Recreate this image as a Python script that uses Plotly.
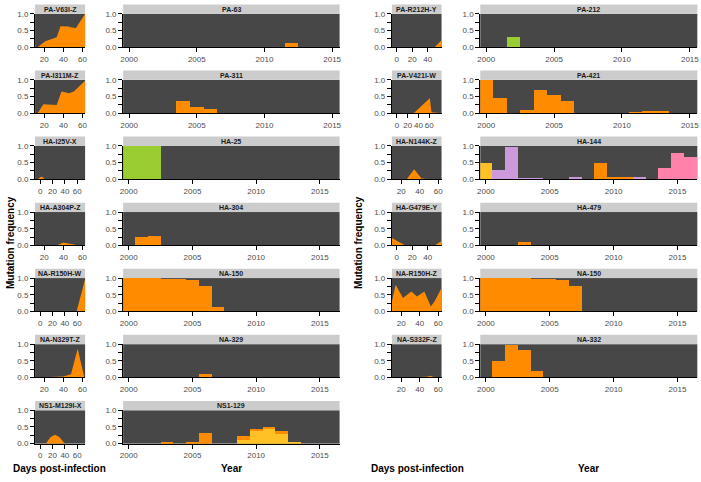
import plotly.graph_objects as go

W, H = 701, 482
ORANGE = "#FF8C00"
GREEN = "#9ACD32"
GOLD = "#FFC125"
PLUM = "#CC99DD"
PINK = "#FF82AB"
BG = "#474747"
STRIP = "#CCCCCC"

# ---------------- small panels: days post-infection ----------------
pa_v63i_z_days = [10.3, 13, 21, 29, 33, 37, 45, 53, 62.8]
pa_v63i_z_vals = [0, 0, 0.18, 0.26, 0.3, 0.63, 0.62, 0.57, 1.0]
pa_i311m_z_days = [10.3, 13, 19, 26, 33, 38, 46, 51, 62.8]
pa_i311m_z_vals = [0, 0, 0.27, 0.25, 0.25, 0.65, 0.6, 0.65, 0.97]
ha_i25v_x_days = [-8.2, -4, 2, 8, 20, 40, 60, 72.6]
ha_i25v_x_vals = [0, 0, 0.08, 0, 0, 0, 0, 0]
ha_a304p_z_days = [10.3, 33, 40, 48, 56, 62.8]
ha_a304p_z_vals = [0, 0, 0.09, 0.05, 0, 0]
na_r150h_w_days = [-8.3, 20, 40, 59, 72.8]
na_r150h_w_vals = [0, 0, 0, 0, 0.97]
na_n329t_z_days = [10.3, 30, 40, 48, 55, 62]
na_n329t_z_vals = [0, 0.01, 0.03, 0.1, 0.86, 0]
ns1_m129i_x_days = [-8.3, 9, 17, 24, 31, 40, 72.8]
ns1_m129i_x_vals = [0, 0, 0.2, 0.27, 0.2, 0, 0]
pa_r212h_y_days = [-6.4, 20, 49, 58]
pa_r212h_y_vals = [0, 0, 0, 0.21]
pa_v421i_w_days = [-9.2, 31, 61, 64, 80, 82.7]
pa_v421i_w_vals = [0, 0, 0.45, 0.03, 0.01, 0]
ha_n144k_z_days = [10, 26, 34, 42, 50, 63.6]
ha_n144k_z_vals = [0, 0, 0.3, 0.02, 0, 0]
ha_g479e_y_days = [-6.4, 11, 30, 49, 58]
ha_g479e_y_vals = [0.22, 0, 0, 0, 0.13]
na_r150h_z_days = [10, 14, 22, 31, 37, 45, 52, 56, 63.6]
na_r150h_z_vals = [0.3, 0.8, 0.4, 0.6, 0.45, 0.6, 0.15, 0.3, 0.7]
na_s332f_z_days = [10, 40, 48, 52, 56, 63.6]
na_s332f_z_vals = [0, 0, 0.02, 0.05, 0, 0]

# ---------------- big panels: year ----------------
pa63_years = [2012]
pa63_vals = [0.14]
pa311_years = [2004, 2005, 2006]
pa311_vals = [0.36, 0.19, 0.14]
ha25_years = [2000, 2001, 2002]
ha25_vals = [1.0, 1.0, 1.0]
ha304_years = [2001, 2002]
ha304_vals = [0.24, 0.27]
na150_l_years = [2000, 2001, 2002, 2003, 2004, 2005, 2006, 2007, 2014]
na150_l_vals = [1.0, 1.0, 1.0, 0.98, 0.97, 0.95, 0.75, 0.14, 0.01]
na329_years = [2006, 2014]
na329_vals = [0.09, 0.01]
ns1_129_gold_years = [2009, 2010, 2011, 2012, 2013]
ns1_129_gold_vals = [0.1, 0.39, 0.44, 0.30, 0.05]
ns1_129_orange_years = [2003, 2005, 2006, 2009, 2010, 2011, 2012]
ns1_129_orange_vals = [0.06, 0.02, 0.33, 0.12, 0.03, 0.035, 0.07]
pa212_years = [2002]
pa212_vals = [0.31]
pa421_years = [2000, 2001, 2003, 2004, 2005, 2006, 2011, 2012, 2013]
pa421_vals = [1.0, 0.45, 0.1, 0.71, 0.54, 0.38, 0.04, 0.07, 0.08]
ha144_gold_years = [2000]
ha144_gold_vals = [0.5]
ha144_plum_years = [2001, 2002, 2003, 2004, 2007, 2012]
ha144_plum_vals = [0.28, 0.96, 0.03, 0.03, 0.06, 0.08]
ha144_orange_years = [2009, 2010, 2011]
ha144_orange_vals = [0.48, 0.08, 0.06]
ha144_pink_years = [2014, 2015, 2016]
ha144_pink_vals = [0.35, 0.8, 0.68]
ha479_years = [2003]
ha479_vals = [0.09]
na150_r_years = [2000, 2001, 2002, 2003, 2004, 2005, 2006, 2007]
na150_r_vals = [1.0, 1.0, 1.0, 0.99, 0.98, 0.96, 0.95, 0.75]
na332_years = [2001, 2002, 2003, 2004]
na332_vals = [0.5, 0.97, 0.82, 0.18]

# ---------------- layout geometry (pixels) ----------------
COLS = {"Ls": (32.3, 82.7), "Lb": (121, 339), "Rs": (391.7, 441.7), "Rb": (480.7, 699.3)}
ROW_TOP = [10, 77.3, 144.6, 212, 279.3, 346.6, 414]
PH = 34
PA_RANGE = [1999.56, 2015.55]
YR_RANGE = [1999.56, 2016.55]
YEAR_TICKS = [2000, 2005, 2010, 2015]

panels = [
    ("Ls", 0, "PA-V63I-Z", [10.3, 62.8], [20, 40, 60], [("a", pa_v63i_z_days, pa_v63i_z_vals, ORANGE)]),
    ("Lb", 0, "PA-63", PA_RANGE, YEAR_TICKS, [("b", pa63_years, pa63_vals, ORANGE)]),
    ("Ls", 1, "PA-I311M-Z", [10.3, 62.8], [20, 40, 60], [("a", pa_i311m_z_days, pa_i311m_z_vals, ORANGE)]),
    ("Lb", 1, "PA-311", PA_RANGE, YEAR_TICKS, [("b", pa311_years, pa311_vals, ORANGE)]),
    ("Ls", 2, "HA-I25V-X", [-8.2, 72.6], [0, 20, 40, 60], [("a", ha_i25v_x_days, ha_i25v_x_vals, ORANGE)]),
    ("Lb", 2, "HA-25", YR_RANGE, YEAR_TICKS, [("b", ha25_years, ha25_vals, GREEN)]),
    ("Ls", 3, "HA-A304P-Z", [10.3, 62.8], [20, 40, 60], [("a", ha_a304p_z_days, ha_a304p_z_vals, ORANGE)]),
    ("Lb", 3, "HA-304", YR_RANGE, YEAR_TICKS, [("b", ha304_years, ha304_vals, ORANGE)]),
    ("Ls", 4, "NA-R150H-W", [-8.3, 72.8], [0, 20, 40, 60], [("a", na_r150h_w_days, na_r150h_w_vals, ORANGE)]),
    ("Lb", 4, "NA-150", YR_RANGE, YEAR_TICKS, [("b", na150_l_years, na150_l_vals, ORANGE)]),
    ("Ls", 5, "NA-N329T-Z", [10.3, 62.8], [20, 40, 60], [("a", na_n329t_z_days, na_n329t_z_vals, ORANGE)]),
    ("Lb", 5, "NA-329", YR_RANGE, YEAR_TICKS, [("b", na329_years, na329_vals, ORANGE)]),
    ("Ls", 6, "NS1-M129I-X", [-8.3, 72.8], [0, 20, 40, 60], [("a", ns1_m129i_x_days, ns1_m129i_x_vals, ORANGE)]),
    ("Lb", 6, "NS1-129", YR_RANGE, YEAR_TICKS,
     [("b", ns1_129_gold_years, ns1_129_gold_vals, GOLD), ("b", ns1_129_orange_years, ns1_129_orange_vals, ORANGE)]),
    ("Rs", 0, "PA-R212H-Y", [-6.4, 58], [0, 20, 40], [("a", pa_r212h_y_days, pa_r212h_y_vals, ORANGE)]),
    ("Rb", 0, "PA-212", PA_RANGE, YEAR_TICKS, [("b", pa212_years, pa212_vals, GREEN)]),
    ("Rs", 1, "PA-V421I-W", [-9.2, 82.7], [0, 20, 40, 60], [("a", pa_v421i_w_days, pa_v421i_w_vals, ORANGE)]),
    ("Rb", 1, "PA-421", PA_RANGE, YEAR_TICKS, [("b", pa421_years, pa421_vals, ORANGE)]),
    ("Rs", 2, "HA-N144K-Z", [10, 63.6], [20, 40, 60], [("a", ha_n144k_z_days, ha_n144k_z_vals, ORANGE)]),
    ("Rb", 2, "HA-144", YR_RANGE, YEAR_TICKS,
     [("b", ha144_gold_years, ha144_gold_vals, GOLD), ("b", ha144_plum_years, ha144_plum_vals, PLUM),
      ("b", ha144_orange_years, ha144_orange_vals, ORANGE), ("b", ha144_pink_years, ha144_pink_vals, PINK)]),
    ("Rs", 3, "HA-G479E-Y", [-6.4, 58], [0, 20, 40], [("a", ha_g479e_y_days, ha_g479e_y_vals, ORANGE)]),
    ("Rb", 3, "HA-479", YR_RANGE, YEAR_TICKS, [("b", ha479_years, ha479_vals, ORANGE)]),
    ("Rs", 4, "NA-R150H-Z", [10, 63.6], [20, 40, 60], [("a", na_r150h_z_days, na_r150h_z_vals, ORANGE)]),
    ("Rb", 4, "NA-150", YR_RANGE, YEAR_TICKS, [("b", na150_r_years, na150_r_vals, ORANGE)]),
    ("Rs", 5, "NA-S332F-Z", [10, 63.6], [20, 40, 60], [("a", na_s332f_z_days, na_s332f_z_vals, ORANGE)]),
    ("Rb", 5, "NA-332", YR_RANGE, YEAR_TICKS, [("b", na332_years, na332_vals, ORANGE)]),
]

FONT = "Liberation Sans, Arial, sans-serif"
fig = go.Figure()
layout = {}
shapes = []
annots = []

for i, (col, row, label, xr, xt, series) in enumerate(panels, start=1):
    x0, x1 = COLS[col]
    top = ROW_TOP[row]
    bot = top + PH
    xs = "" if i == 1 else str(i)
    for kind, xv, yv, color in series:
        if kind == "a":
            fig.add_trace(go.Scatter(x=xv, y=yv, mode="lines", fill="tozeroy", fillcolor=color,
                                     line=dict(width=0, color=color), showlegend=False,
                                     hoverinfo="skip", xaxis="x" + xs, yaxis="y" + xs))
        else:
            fig.add_trace(go.Bar(x=xv, y=yv, width=1, marker=dict(color=color, line=dict(width=0)),
                                 showlegend=False, xaxis="x" + xs, yaxis="y" + xs))
    layout["xaxis" + xs] = dict(
        domain=[x0 / W, x1 / W], range=xr, anchor="y" + xs, tickmode="array", tickvals=xt,
        ticktext=[str(v) for v in xt], ticks="outside", ticklen=4, tickwidth=1, tickcolor="black",
        tickangle=0, ticklabeloverflow="allow",
        showline=True, linecolor="black", linewidth=1, showgrid=False, zeroline=False,
        tickfont=dict(family=FONT, size=8, color="#4d4d4d"), fixedrange=True)
    layout["yaxis" + xs] = dict(
        domain=[1 - bot / H, 1 - top / H], range=[0, 1], anchor="x" + xs, tickmode="array",
        tickvals=[0, 0.5, 1], ticktext=["0.0", "0.5", "1.0"], ticks="outside", ticklen=4,
        tickwidth=1, tickcolor="black", showline=True, linecolor="black", linewidth=1,
        showgrid=False, zeroline=False, tickfont=dict(family=FONT, size=8, color="#4d4d4d"),
        minor=dict(tickvals=[0.25, 0.75], ticks="outside", ticklen=4, tickwidth=1, tickcolor="black"),
        fixedrange=True)
    shapes.append(dict(type="rect", xref="paper", yref="paper", x0=x0 / W, x1=x1 / W,
                       y0=1 - top / H, y1=1 - (top - 9.5) / H, fillcolor=STRIP, line=dict(width=0),
                       layer="below"))
    annots.append(dict(text=label, xref="paper", yref="paper", x=(x0 + x1) / 2 / W,
                       y=1 - (top - 4.8) / H, showarrow=False, xanchor="center", yanchor="middle",
                       font=dict(family=FONT, size=7, color="#1a1a1a", weight="bold")))

annots.append(dict(text="Mutation frequency", xref="paper", yref="paper", x=0, y=1 - 243 / H,
                   textangle=-90, showarrow=False, xanchor="left", yanchor="middle",
                   font=dict(family=FONT, size=10, color="black", weight="bold")))
annots.append(dict(text="Mutation frequency", xref="paper", yref="paper", x=358 / W, y=1 - 243 / H,
                   textangle=-90, showarrow=False, xanchor="center", yanchor="middle",
                   font=dict(family=FONT, size=10, color="black", weight="bold")))
for xc, txt in ((57, "Days post-infection"), (230, "Year"), (417, "Days post-infection"), (590, "Year")):
    annots.append(dict(text=txt, xref="paper", yref="paper", x=xc / W, y=1 - 473 / H,
                       showarrow=False, xanchor="center", yanchor="middle",
                       font=dict(family=FONT, size=10, color="black", weight="bold")))

fig.update_layout(width=W, height=H, margin=dict(l=0, r=0, t=0, b=0), paper_bgcolor="white",
                  plot_bgcolor=BG, barmode="stack", shapes=shapes, annotations=annots,
                  showlegend=False, **layout)
fig.write_html("out.html", config={"displayModeBar": False},
               post_script="document.body.style.margin='0';document.body.style.padding='0';"
                           "document.documentElement.style.overflow='hidden';")
